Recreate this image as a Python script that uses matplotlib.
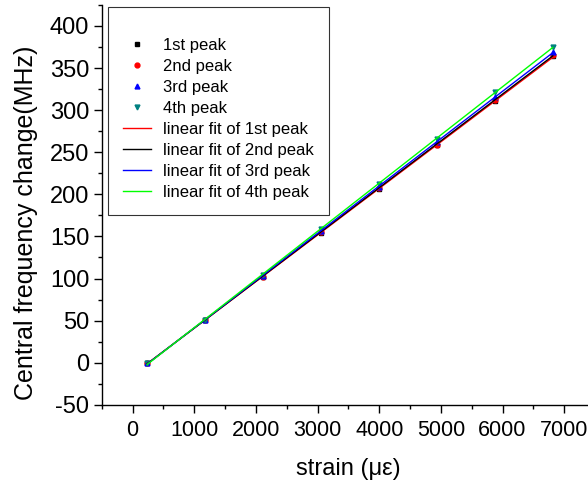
import numpy as np
import matplotlib.pyplot as plt
from matplotlib.ticker import MultipleLocator

plt.rcParams['font.family'] = ['Liberation Sans', 'DejaVu Sans']
plt.rcParams['axes.unicode_minus'] = False

# strain points (micro-strain)
strain = [235, 1175, 2115, 3055, 3995, 4935, 5875, 6815]

# central frequency change of each peak (MHz)
peak1 = [0, 51, 102, 154, 206, 258, 311, 364]
peak2 = [0, 51, 102, 155, 207, 259, 312, 366]
peak3 = [0, 51, 103, 156, 209, 262, 316, 369]
peak4 = [0, 51, 104, 159, 212, 266, 322, 375]

labels = ["1st peak", "2nd peak", "3rd peak", "4th peak"]
marker_styles = [("s", "black"), ("o", "red"), ("^", "blue"), ("v", "#008080")]
fit_colors = ["red", "black", "blue", "#00ff00"]

fig = plt.figure(figsize=(5.88, 4.86), dpi=100)
ax = fig.add_axes([0.173, 0.167, 0.839, 0.823])

x = np.array(strain)
peaks = [peak1, peak2, peak3, peak4]

for y, lab, (m, c) in zip(peaks, labels, marker_styles):
    ax.plot(x, y, linestyle="none", marker=m, color=c, markersize=3.5, label=lab)

for y, lab, c in zip(peaks, labels, fit_colors):
    k, b = np.polyfit(x, y, 1)
    ax.plot(x, k * x + b, color=c, linewidth=1.0, label="linear fit of " + lab)

ax.set_xlim(-500, 7500)
ax.set_ylim(-50, 425)
ax.xaxis.set_major_locator(MultipleLocator(1000))
ax.xaxis.set_minor_locator(MultipleLocator(500))
ax.yaxis.set_major_locator(MultipleLocator(50))
ax.yaxis.set_minor_locator(MultipleLocator(25))
ax.tick_params(which="major", direction="out", length=6, width=1, labelsize=17, pad=3)
ax.tick_params(axis="x", which="major", pad=5, labelsize=15.5)
ax.tick_params(which="minor", direction="out", length=3, width=1)

for s in ["top", "right"]:
    ax.spines[s].set_visible(False)
for s in ["left", "bottom"]:
    ax.spines[s].set_linewidth(1)

ax.set_xlabel("strain (\u03bc\u03b5)", fontsize=17, labelpad=12)
ax.set_ylabel("Central frequency change(MHz)", fontsize=18)
ax.yaxis.set_label_coords(-0.13, 0.455)

leg = ax.legend(loc="upper left", bbox_to_anchor=(108 / 588, 1 - 7 / 486),
                bbox_transform=fig.transFigure, fontsize=12, frameon=True,
                fancybox=False, edgecolor="black", handlelength=1.7,
                numpoints=1, labelspacing=0.36, borderpad=0.9, borderaxespad=0,
                handletextpad=0.7, title=" ", title_fontsize=8)
leg.get_frame().set_linewidth(0.8)

fig.savefig("out.png", dpi=100)
